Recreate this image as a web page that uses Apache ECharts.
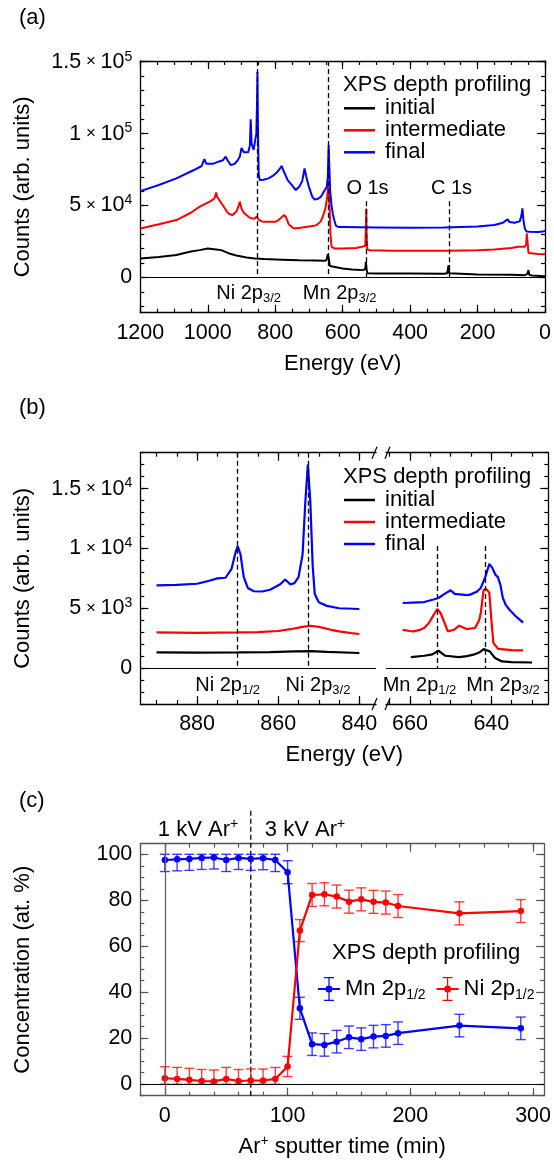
<!DOCTYPE html>
<html>
<head>
<meta charset="utf-8">
<script src="https://cdn.jsdelivr.net/npm/echarts@6/dist/echarts.min.js"></script>
<style>
  html, body { margin: 0; padding: 0; background: #fff; }
  #chart { width: 554px; height: 1161px; }
</style>
</head>
<body>
<div id="chart"></div>
<script>
// ---------------- (a) survey spectra: binding energy (eV) / counts ----------------
const surveyInitialEnergy = [1200,1145,1093,1050,1024,1000,975,960,937,915,885,860,833,780,729,680,655,648,644,641,638,636,600,573,540,533,531,529,526,500,400,300,290,286,284,280,200,100,60,52,49,47,40,0];
const surveyInitialCounts = [13200,14300,15600,18000,19000,20200,19500,19000,16700,15300,13900,13200,12800,12400,12000,11800,11600,12000,16200,13000,8000,7000,6300,5600,5100,6000,10900,5000,3000,2800,2800,2600,3000,8600,3000,2100,2000,1900,1600,2500,5100,2000,1400,900];

const surveyIntermediateEnergy = [1200,1145,1093,1050,1024,1000,989,980,975,972,967,955,943,935,926,915,908,905,900,893,888,878,870,860,855,852.5,848,840,833,810,798,790,780,773,768,760,745,725,705,690,677,665,659,651,646,643,641.5,639,636,633,625,600,560,540,533,531,530,529,527,520,450,350,285,200,150,100,80,60,56,54,51,49,45,20,0];
const surveyIntermediateCounts = [34100,37000,39900,45000,49200,52000,53400,55000,59000,56000,55000,50000,45700,44000,43400,46000,50000,52700,48000,45000,44600,42000,41000,41000,42500,43400,40000,39000,38800,38800,38800,40000,42000,43400,42000,37000,34100,34500,35300,35800,36400,39000,42200,48000,56000,63000,66000,50000,30000,21400,20200,20200,20500,21500,22000,35000,48000,30000,19500,19000,18500,18500,18500,19000,19500,20500,21400,21400,23000,30600,30000,17000,16700,16300,16200];

const surveyFinalEnergy = [1200,1145,1093,1041,1018,1010,1004,999,985,968,955,947,940,932,920,910,905,900,893,888,880,875,872.7,870,864,860,856,854,852.7,851.5,849,846,835,820,805,795,785,781,775,763,750,739,729,720,713,708,700,690,683,675,665,655,647,644,641.5,640,637,633,629,625,620,612,600,500,400,300,200,150,125,111,105,90,75,70,67,64,60,55,45,20,5,0];
const surveyFinalCounts = [60000,64300,68900,74700,77500,82200,79000,78200,79000,80500,81500,84000,81000,78200,79000,82000,84000,90000,87000,86400,87000,92000,110000,93000,88700,90000,100000,120000,143000,110000,72000,67700,68000,68900,71000,73000,76000,77500,74000,67700,64000,60800,63000,67000,75800,70000,63000,56000,54200,54500,56000,60000,63000,70000,92000,80000,60000,50000,44000,40000,36000,35000,35000,34800,34500,34800,35500,36500,38000,40400,38500,38000,39000,43000,48000,40000,34000,32000,31800,31600,32000,32500];

// core-level reference energies marked in the survey (eV) and how high each marker reaches
const surveyPeakEnergy = [852.7, 641.5, 530, 285];
const surveyPeakTop = [150500, 150500, 53000, 53000];

// axis ticks of the survey panel
const surveyXTicks = [0, 200, 400, 600, 800, 1000, 1200];
const surveyYTicks = [0, 50000, 100000, 150000];
const surveyYTickLabels = ['0', '5 × 10^4', '1 × 10^5', '1.5 × 10^5'];

// ---------------- (b) high-resolution Ni 2p and Mn 2p regions ----------------
const niInitialEnergy = [890,880,870,862,856,852,848,840];
const niInitialCounts = [1310,1300,1320,1340,1400,1420,1350,1260];
const niIntermediateEnergy = [890,880,870,865,860,857,854,852,850,847,845,842,840];
const niIntermediateCounts = [2980,2950,2980,3000,3100,3250,3450,3540,3450,3200,3070,2920,2850];
const niFinalEnergy = [890,885,880,877,875,873,871.5,870.5,870,869.3,868.5,867.5,866,864,862,859.5,858.3,857,856,855,854,853.3,852.7,852.1,851.5,851,850,848,845,840];
const niFinalCounts = [6920,6950,7050,7300,7500,7550,8300,9700,10200,9500,7600,6700,6420,6400,6550,7000,7400,7000,7100,7600,9500,14000,17000,14000,8500,6200,5500,5200,5000,4940];

const mnInitialEnergy = [659.8,656.5,654.5,653,651.3,648,646,644.4,643,641.9,640.4,639.1,637.4,635,630];
const mnInitialCounts = [920,1030,1150,1450,1030,920,1000,1120,1300,1590,1400,840,560,500,470];
const mnIntermediateEnergy = [661.8,660,659.2,657.5,656.5,655.3,654.4,653.3,652.5,651.8,650.7,649.2,647.9,646.1,644,643,642.6,641.9,641.2,640.5,640,639.5,638.3,635,632.2];
const mnIntermediateCounts = [3200,3100,3070,3200,3350,3800,4320,4940,4600,4040,3070,3200,3540,3260,3350,4000,4600,6550,6600,6300,4050,2100,1600,1500,1480];
const mnFinalEnergy = [661.8,658,656.5,654,653,651.5,650,649,648.7,646,645.2,643.5,642.6,641.5,640.5,639.8,639,638.4,637.8,637.2,636.5,635.6,633.9,632.2];
const mnFinalCounts = [5440,5500,5520,5750,5860,6200,6500,6200,6050,6100,6140,6400,6700,7600,8700,8400,7800,7600,7000,5900,5300,4900,4300,3800];

const niPeakEnergy = [870.2, 852.6];
const niPeakTop = [18000, 18000];
const mnPeakEnergy = [653.2, 641.6];
const mnPeakTop = [10200, 10200];

const niXTicks = [880, 860, 840];
const mnXTicks = [660, 640];
const regionYTicks = [0, 5000, 10000, 15000];
const regionYTickLabels = ['0', '5 × 10^3', '1 × 10^4', '1.5 × 10^4'];

// ---------------- (c) depth profile ----------------
const sputterTime = [0,10,20,30,40,50,60,70,80,90,100,110,120,130,140,150,160,170,180,190,240,290];
const mnConc = [97.5,97.8,98.0,98.4,98.6,97.5,98.4,98.0,98.3,97.5,92.2,33.0,17.4,17.1,18.5,20.4,19.6,20.7,21.0,22.2,25.5,24.3];
const mnErr  = [5,5,5,5,5,5,5,5,5,5,5,4.8,4.9,4.9,4.9,4.9,4.9,4.9,4.9,4.9,4.9,4.9];
const niConc = [2.6,2.3,1.9,1.4,1.2,2.3,1.4,1.6,1.6,2.3,7.7,66.8,82.3,82.6,81.6,79.4,80.4,79.3,79.0,77.5,74.3,75.3];
const niErr  = [5,5,5,5,5,5,5,5,5,5,4.4,4.8,5,5,5,5,5,5,5,5,5,5];
const beamSwitchTime = 70;     // 1 kV -> 3 kV Ar+ beam
const profileXTicks = [0, 100, 200, 300];
const profileYTicks = [0, 20, 40, 60, 80, 100];

// ---------------- drawing ----------------
const FONT = '"Liberation Sans", Arial, Helvetica, sans-serif';
const BLACK = '#000000', RED = '#ff0000', BLUE = '#0000ff';

const range = (a, b, s) => { const r = []; for (let v = a; v <= b + 1e-9; v += s) r.push(+v.toFixed(6)); return r; };
const pairs = (xs, ys) => xs.map((x, i) => [x, ys[i]]);

const RICH = {
  m: { fontSize: 21.5, fontFamily: FONT, color: '#000', lineHeight: 24 },
  x: { fontSize: 17, fontFamily: FONT, color: '#000', lineHeight: 24 },
  p: { fontSize: 14, fontFamily: FONT, color: '#000', lineHeight: 14, verticalAlign: 'top' },
  t: { fontSize: 20, fontFamily: FONT, color: '#000', lineHeight: 24 },
  b: { fontSize: 13, fontFamily: FONT, color: '#000', lineHeight: 12, verticalAlign: 'bottom' },
  n: { fontSize: 22, fontFamily: FONT, color: '#000', lineHeight: 26 },
  q: { fontSize: 14, fontFamily: FONT, color: '#000', lineHeight: 14, verticalAlign: 'top' },
  s: { fontSize: 14, fontFamily: FONT, color: '#000', lineHeight: 12, verticalAlign: 'bottom' }
};
// "1.5 × 10^5" -> rich text with a raised exponent
function sci(s) {
  const m = s.match(/^(.*) × 10\^(\d+)$/);
  return m ? `{m|${m[1]}}{x| × }{m|10}{p|${m[2]}}` : `{m|${s}}`;
}
// "Ni 2p_3/2" -> rich text with a lowered index
function sub(s) {
  const i = s.indexOf('_');
  return i < 0 ? `{t|${s}}` : `{t|${s.slice(0, i)}}{b|${s.slice(i + 1)}}`;
}

const grids = [
  { left: 140.3, top: 61,    width: 408,   height: 251.7 },  // (a)
  { left: 140.3, top: 452.7, width: 235.7, height: 251.3 },  // (b) Ni 2p
  { left: 386,   top: 452.7, width: 162.3, height: 251.3 },  // (b) Mn 2p
  { left: 140.3, top: 843.7, width: 408,   height: 252 }     // (c)
];

const xAxes = [], yAxes = [];
function buildAxes(dim, gridIndex, c) {
  const sides = dim === 'x' ? ['bottom', 'top'] : ['left', 'right'];
  const list = [];
  sides.forEach((pos, s) => {
    ['major', 'minor'].forEach(kind => {
      const primary = s === 0 && kind === 'major';
      list.push({
        type: 'value', gridIndex, position: pos,
        min: c.min, max: c.max, inverse: !!c.inverse,
        axisLine: { show: kind === 'major' && c.lines.includes(pos), onZero: false,
                    lineStyle: { color: c.color, width: 1.3 } },
        axisTick: { show: c.ticks.includes(pos), inside: true, length: kind === 'major' ? 8 : 4,
                    customValues: kind === 'major' ? c.major : c.minor,
                    lineStyle: { color: c.color, width: 1.2 } },
        axisLabel: primary && c.labels
          ? { show: true, customValues: c.major, formatter: c.labels, margin: 8, color: '#000',
              fontSize: 21.5, fontFamily: FONT, rich: RICH }
          : { show: false },
        splitLine: { show: false },
        name: primary && c.name ? c.name : '',
        nameLocation: 'middle', nameGap: c.nameGap || 30,
        nameTextStyle: { fontSize: 22, fontFamily: FONT, color: '#000', rich: RICH }
      });
    });
  });
  return list;
}
function addFrame(gridIndex, xc, yc) {
  const idx = { x: xAxes.length, y: yAxes.length };
  xAxes.push(...buildAxes('x', gridIndex, xc));
  yAxes.push(...buildAxes('y', gridIndex, yc));
  return idx;
}

const axA = addFrame(0,
  { min: 0, max: 1200, inverse: true, major: surveyXTicks, minor: range(0, 1200, 50),
    labels: v => `{m|${v}}`, lines: ['bottom', 'top'], ticks: ['bottom', 'top'], color: BLACK,
    name: 'Energy (eV)', nameGap: 40 },
  { min: -24500, max: 150500, major: surveyYTicks, minor: range(-20000, 150000, 10000),
    labels: v => sci(surveyYTickLabels[surveyYTicks.indexOf(v)]), lines: ['left', 'right'], ticks: ['left', 'right'],
    color: BLACK, name: 'Counts (arb. units)', nameGap: 106 });

const axB1 = addFrame(1,
  { min: 835.9, max: 894.0, inverse: true, major: niXTicks, minor: range(840, 890, 5),
    labels: v => `{m|${v}}`, lines: ['bottom', 'top'], ticks: ['bottom', 'top'], color: BLACK },
  { min: -3000, max: 18000, major: regionYTicks, minor: range(-3000, 18000, 1000),
    labels: v => sci(regionYTickLabels[regionYTicks.indexOf(v)]), lines: ['left'], ticks: ['left'],
    color: BLACK, name: 'Counts (arb. units)', nameGap: 106 });

const axB2 = addFrame(2,
  { min: 626.0, max: 665.9, inverse: true, major: mnXTicks, minor: range(630, 665, 5),
    labels: v => `{m|${v}}`, lines: ['bottom', 'top'], ticks: ['bottom', 'top'], color: BLACK },
  { min: -3000, max: 18000, major: regionYTicks, minor: range(-3000, 18000, 1000),
    labels: null, lines: ['right'], ticks: ['right'], color: BLACK });

const axC = addFrame(3,
  { min: -20, max: 309, major: profileXTicks, minor: range(-20, 300, 20),
    labels: v => `{m|${v}}`, lines: ['bottom', 'top'], ticks: ['bottom', 'top'], color: '#555',
    name: '{n|Ar}{q|+}{n| sputter time (min)}', nameGap: 38 },
  { min: -5, max: 104.6, major: profileYTicks, minor: range(-5, 100, 5),
    labels: v => `{m|${v}}`, lines: ['left', 'right'], ticks: ['left', 'right'], color: '#555',
    name: 'Concentration (at. %)', nameGap: 106 });

const noSymbol = { type: 'line', symbol: 'none', showSymbol: false, silent: true, z: 2 };
const zeroLine = color => ({ silent: true, symbol: ['none', 'none'], label: { show: false },
  lineStyle: { color, type: 'solid', width: 1.2 }, data: [{ yAxis: 0 }] });
const peakLines = (energies, tops) => ({ silent: true, symbol: ['none', 'none'], label: { show: false },
  lineStyle: { color: '#000', type: [5, 3], width: 1.3 },
  data: energies.map((e, i) => [{ coord: [e, tops[i]] }, { coord: [e, 0] }]) });

function spectrum(name, ax, xs, ys, color, width, extra) {
  return Object.assign({}, noSymbol, {
    name, xAxisIndex: ax.x, yAxisIndex: ax.y, data: pairs(xs, ys),
    color, lineStyle: { color, width }
  }, extra || {});
}

// error bars drawn through the library's own coordinate conversion
function errorBars(name, times, conc, err, color) {
  return {
    type: 'custom', name, xAxisIndex: axC.x, yAxisIndex: axC.y, silent: true, z: 3,
    data: times.map((t, i) => [t, Math.max(0, conc[i] - err[i]), Math.min(100, conc[i] + err[i])]),
    encode: { x: 0, y: [1, 2] },
    renderItem: (params, api) => {
      const lo = api.coord([api.value(0), api.value(1)]);
      const hi = api.coord([api.value(0), api.value(2)]);
      const w = 5;
      const st = { stroke: color, lineWidth: 1.4, opacity: 0.75 };
      return { type: 'group', children: [
        { type: 'line', shape: { x1: lo[0], y1: lo[1], x2: hi[0], y2: hi[1] }, style: st },
        { type: 'line', shape: { x1: lo[0] - w, y1: lo[1], x2: lo[0] + w, y2: lo[1] }, style: st },
        { type: 'line', shape: { x1: hi[0] - w, y1: hi[1], x2: hi[0] + w, y2: hi[1] }, style: st }
      ] };
    }
  };
}
function profileLine(name, conc, color, extra) {
  return Object.assign({
    type: 'line', name, xAxisIndex: axC.x, yAxisIndex: axC.y, data: pairs(sputterTime, conc),
    symbol: 'circle', symbolSize: 6.5, showSymbol: true, silent: true, z: 4,
    color, itemStyle: { color }, lineStyle: { color, width: 2.2 }
  }, extra || {});
}

const series = [
  // (a)
  spectrum('initial', axA, surveyInitialEnergy, surveyInitialCounts, BLACK, 2, { markLine: zeroLine('#000') }),
  spectrum('intermediate', axA, surveyIntermediateEnergy, surveyIntermediateCounts, RED, 2),
  spectrum('final', axA, surveyFinalEnergy, surveyFinalCounts, BLUE, 2,
           { markLine: peakLines(surveyPeakEnergy, surveyPeakTop) }),
  // (b) Ni 2p
  spectrum('initial', axB1, niInitialEnergy, niInitialCounts, BLACK, 2.2, { markLine: zeroLine('#000') }),
  spectrum('intermediate', axB1, niIntermediateEnergy, niIntermediateCounts, RED, 2.2),
  spectrum('final', axB1, niFinalEnergy, niFinalCounts, BLUE, 2.2, { markLine: peakLines(niPeakEnergy, niPeakTop) }),
  // (b) Mn 2p
  spectrum('initial', axB2, mnInitialEnergy, mnInitialCounts, BLACK, 2.2, { markLine: zeroLine('#000') }),
  spectrum('intermediate', axB2, mnIntermediateEnergy, mnIntermediateCounts, RED, 2.2),
  spectrum('final', axB2, mnFinalEnergy, mnFinalCounts, BLUE, 2.2, { markLine: peakLines(mnPeakEnergy, mnPeakTop) }),
  // (c)
  {
    type: 'custom', name: 'beam switch', xAxisIndex: axC.x, yAxisIndex: axC.y, silent: true, z: 1,
    data: [[beamSwitchTime, -5, 119]],
    renderItem: (params, api) => {
      const a = api.coord([api.value(0), api.value(1)]);
      const b = api.coord([api.value(0), api.value(2)]);
      return { type: 'line', shape: { x1: a[0], y1: a[1], x2: b[0], y2: b[1] },
               style: { stroke: '#000', lineWidth: 1.3, lineDash: [5, 3] } };
    }
  },
  Object.assign({}, noSymbol, {
    name: 'guides', xAxisIndex: axC.x, yAxisIndex: axC.y, data: [],
    markLine: { silent: true, symbol: ['none', 'none'], label: { show: false },
      data: [ { yAxis: 0, lineStyle: { color: '#000', type: 'solid', width: 1.2 } },
              { xAxis: 0, lineStyle: { color: '#666', type: 'solid', width: 1.3 } } ] }
  }),
  errorBars('Mn 2p1/2', sputterTime, mnConc, mnErr, BLUE),
  profileLine('Mn 2p1/2', mnConc, BLUE),
  errorBars('Ni 2p1/2', sputterTime, niConc, niErr, RED),
  profileLine('Ni 2p1/2', niConc, RED)
];

const specLegend = top => ({
  data: ['initial', 'intermediate', 'final'], orient: 'vertical', left: 344, top,
  padding: 0, itemGap: 0, itemWidth: 31, itemHeight: 2.5, icon: 'rect', selectedMode: false,
  textStyle: { fontSize: 22, fontFamily: FONT, color: '#000', lineHeight: 22, padding: [0, 0, 0, 5] }
});
const ERR_ICON = 'path://M0,11h22v2H0z M10.4,1h1.2v22h-1.2z M6,0h10v1.2H6z M6,22.8h10v1.2H6z M14.5,12a3.5,3.5 0 1 1 -7,0a3.5,3.5 0 1 1 7,0z';

const legends = [
  specLegend(97.3),
  specLegend(489),
  {
    data: [ { name: 'Mn 2p1/2', icon: ERR_ICON, itemStyle: { color: BLUE } },
            { name: 'Ni 2p1/2', icon: ERR_ICON, itemStyle: { color: RED } } ],
    orient: 'horizontal', left: 318, top: 977, padding: 0, itemGap: 11,
    itemWidth: 22, itemHeight: 24, selectedMode: false,
    formatter: n => `{n|${n.replace('1/2', '')}}{s|1/2}`,
    textStyle: { fontSize: 22, fontFamily: FONT, color: '#000', rich: RICH }
  }
];

// titles, peak labels, panel tags and the axis-break marks
function text(x, y, str, align, extra) {
  return Object.assign({ type: 'text', x, y, silent: true,
    style: { text: str, rich: RICH, fontSize: 22, fontFamily: FONT, fill: '#000',
             align: align || 'left', verticalAlign: 'middle' } }, extra || {});
}
const gB1 = grids[1], gB2 = grids[2];
const breakX1 = gB1.left + gB1.width, breakX2 = gB2.left;
const slash = (cx, cy) => ({ type: 'line', silent: true,
  shape: { x1: cx - 2.5, y1: cy + 6, x2: cx + 2.5, y2: cy - 6 }, style: { stroke: '#000', lineWidth: 1.2 } });
const graphic = [
  text(19, 17.5, '(a)'), text(19, 407.5, '(b)'), text(19, 801, '(c)'),
  text(343, 85.3, 'XPS depth profiling'),
  text(343, 477, 'XPS depth profiling'),
  text(332, 953, 'XPS depth profiling'),
  text(248.6, 293, sub('Ni 2p_3/2'), 'center'),
  text(339.7, 293, sub('Mn 2p_3/2'), 'center'),
  text(367.5, 188, sub('O 1s'), 'center'),
  text(451.5, 188, sub('C 1s'), 'center'),
  text(227.6, 685, sub('Ni 2p_1/2'), 'center'),
  text(318, 685, sub('Ni 2p_3/2'), 'center'),
  text(419.5, 685, sub('Mn 2p_1/2'), 'center'),
  text(503, 685, sub('Mn 2p_3/2'), 'center'),
  text(344.3, 755, '{n|Energy (eV)}', 'center'),
  text(198, 830, '{n|1 kV Ar}{q|+}', 'center'),
  text(305, 830, '{n|3 kV Ar}{q|+}', 'center'),
  slash(breakX1 - 1.5, gB1.top), slash(breakX2 + 1.5, gB1.top),
  slash(breakX1 - 1.5, gB1.top + gB1.height), slash(breakX2 + 1.5, gB1.top + gB1.height)
];

const chart = echarts.init(document.getElementById('chart'), null, { renderer: 'canvas' });
chart.setOption({
  animation: false,
  backgroundColor: '#ffffff',
  textStyle: { fontFamily: FONT },
  grid: grids.map(g => Object.assign({ show: false }, g)),
  xAxis: xAxes,
  yAxis: yAxes,
  legend: legends,
  series,
  graphic
});
</script>
</body>
</html>
